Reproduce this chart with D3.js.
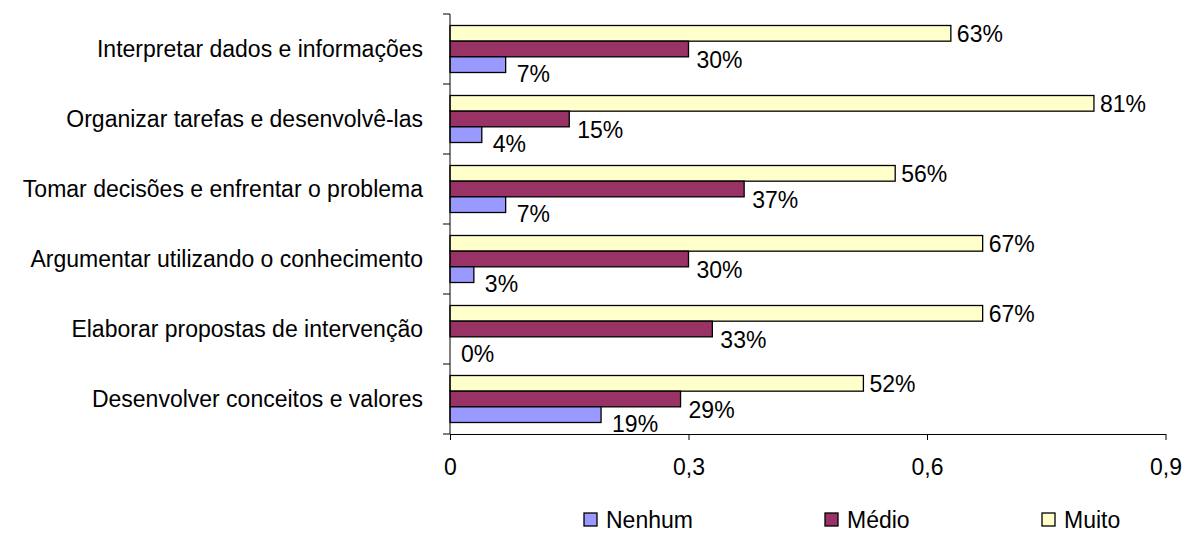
<!doctype html>
<html lang="pt">
<head>
  <meta charset="utf-8">
  <title>Competências</title>
  <style>
    body { margin: 0; background: #fff; }
    svg text { font-family: "Liberation Sans", Arial, sans-serif; fill: #000; }
  </style>
</head>
<body>
  <script src="https://cdn.jsdelivr.net/npm/d3@7"></script>
  <script>
    // Categories (top to bottom) and series values
    const categories = [
      'Interpretar dados e informações',
      'Organizar tarefas e desenvolvê-las',
      'Tomar decisões e enfrentar o problema',
      'Argumentar utilizando o conhecimento',
      'Elaborar propostas de intervenção',
      'Desenvolver conceitos e valores'
    ];
    const muito = [0.63, 0.81, 0.56, 0.67, 0.67, 0.52];
    const medio = [0.30, 0.15, 0.37, 0.30, 0.33, 0.29];
    const nenhum = [0.07, 0.04, 0.07, 0.03, 0.00, 0.19];
    const seriesNames = ['Muito', 'Médio', 'Nenhum'];
    const legendOrder = ['Nenhum', 'Médio', 'Muito'];
    const xTicks = [0, 0.3, 0.6, 0.9];

    const w = 1185;
    const h = 534;
    const fontSize = '23px';
    const colors = { 'Muito': '#ffffcc', 'Médio': '#993366', 'Nenhum': '#9999ff' };
    const labelShift = { 'Muito': { dx: 6, dy: 0 }, 'Médio': { dx: 8, dy: 11 }, 'Nenhum': { dx: 11, dy: 9 } };

    const seriesValues = { 'Muito': muito, 'Médio': medio, 'Nenhum': nenhum };

    const xScale = d3.scaleLinear().domain([0, 0.9]).range([450, 1165.5]);
    const yScale = d3.scaleBand().domain(categories).range([14, 434]).padding(0);
    const inner = d3.scaleBand().domain(seriesNames).range([11.5, 58.5]).padding(0);

    const svg = d3.select('body')
                  .append('svg')
                  .attr('width', w)
                  .attr('height', h);

    // Bars
    const groups = svg.selectAll('g.cat')
                      .data(categories)
                      .enter()
                      .append('g')
                      .attr('class', 'cat')
                      .attr('transform', (d) => `translate(0, ${yScale(d)})`);

    seriesNames.forEach((s) => {
      groups.append('rect')
            .attr('x', xScale(0))
            .attr('y', inner(s))
            .attr('width', (d, i) => xScale(seriesValues[s][i]) - xScale(0))
            .attr('height', inner.bandwidth())
            .attr('fill', colors[s])
            .attr('stroke', '#000')
            .attr('stroke-width', 1.3);

      groups.append('text')
            .attr('x', (d, i) => xScale(seriesValues[s][i]) + labelShift[s].dx)
            .attr('y', inner(s) + inner.bandwidth() / 2 + labelShift[s].dy)
            .attr('dy', '0.36em')
            .style('font-size', fontSize)
            .text((d, i) => Math.round(seriesValues[s][i] * 100) + '%');
    });

    // Category labels
    svg.selectAll('text.cat-label')
       .data(categories)
       .enter()
       .append('text')
       .attr('class', 'cat-label')
       .attr('x', 423)
       .attr('y', (d) => yScale(d) + yScale.bandwidth() / 2)
       .attr('dy', '0.36em')
       .attr('text-anchor', 'end')
       .style('font-size', fontSize)
       .text((d) => d);

    // Y axis line and ticks at band boundaries
    const yAxis = svg.append('g').attr('id', 'y-axis');
    yAxis.append('line')
         .attr('x1', xScale(0)).attr('x2', xScale(0))
         .attr('y1', yScale.range()[0]).attr('y2', yScale.range()[1])
         .attr('stroke', '#000');
    const bounds = categories.map((c) => yScale(c)).concat([yScale.range()[1]]);
    yAxis.selectAll('line.tick')
         .data(bounds)
         .enter()
         .append('line')
         .attr('class', 'tick')
         .attr('x1', xScale(0) - 7).attr('x2', xScale(0))
         .attr('y1', (d) => d).attr('y2', (d) => d)
         .attr('stroke', '#000');

    // X axis
    const xAxis = d3.axisBottom(xScale)
                    .tickValues(xTicks)
                    .tickSize(6)
                    .tickSizeOuter(0)
                    .tickPadding(19)
                    .tickFormat((d) => d === 0 ? '0' : d3.format('.1f')(d).replace('.', ','));

    const gx = svg.append('g')
                  .attr('id', 'x-axis')
                  .attr('transform', `translate(0, ${yScale.range()[1]})`)
                  .call(xAxis);
    gx.selectAll('text').style('font-size', fontSize).attr('fill', '#000');
    gx.selectAll('line, path').attr('stroke', '#000');

    // Legend
    const legendX = { 'Nenhum': 584, 'Médio': 825, 'Muito': 1042 };
    const legend = svg.selectAll('g.legend')
                      .data(legendOrder)
                      .enter()
                      .append('g')
                      .attr('class', 'legend')
                      .attr('transform', (d) => `translate(${legendX[d]}, 513)`);
    legend.append('rect')
          .attr('width', 13)
          .attr('height', 13)
          .attr('fill', (d) => colors[d])
          .attr('stroke', '#000')
          .attr('stroke-width', 1.3);
    legend.append('text')
          .attr('x', 22)
          .attr('y', 6.5)
          .attr('dy', '0.36em')
          .style('font-size', fontSize)
          .text((d) => d);
  </script>
</body>
</html>
